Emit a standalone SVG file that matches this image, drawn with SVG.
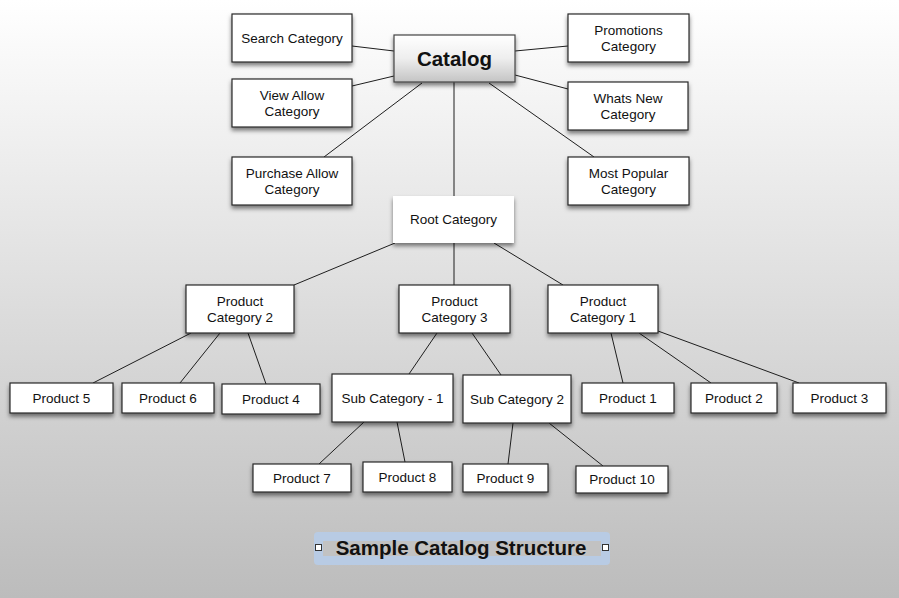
<svg xmlns="http://www.w3.org/2000/svg" width="899" height="598" viewBox="0 0 899 598">
<defs>
<linearGradient id="bg" x1="0" y1="0" x2="0" y2="1">
<stop offset="0" stop-color="#ffffff"/>
<stop offset="1" stop-color="#bcbcbc"/>
</linearGradient>
<linearGradient id="cat" x1="0" y1="0" x2="0" y2="1">
<stop offset="0" stop-color="#ffffff"/>
<stop offset="0.5" stop-color="#eeeeee"/>
<stop offset="1" stop-color="#c4c4c4"/>
</linearGradient>
<filter id="sh" x="-20%" y="-20%" width="140%" height="160%">
<feDropShadow dx="0" dy="3" stdDeviation="2" flood-color="#000" flood-opacity="0.5"/>
</filter>
<style>
.box{fill:#fff;stroke:#2a2a2a;stroke-width:1.2;filter:url(#sh)}
.nb{fill:#fff;stroke:none;filter:url(#sh)}
.t{font-family:"Liberation Sans",Arial,sans-serif;font-size:13.5px;fill:#111;text-anchor:middle}
.c line{stroke:#1e1e1e;stroke-width:1}
</style>
</defs>
<rect x="0" y="0" width="899" height="598" fill="url(#bg)"/>
<g class="c" id="connectors">
<line x1="352" y1="46" x2="394" y2="51"/>
<line x1="352" y1="86" x2="394" y2="76"/>
<line x1="324" y1="157" x2="422" y2="83"/>
<line x1="454" y1="82" x2="454" y2="196"/>
<line x1="515" y1="51" x2="568" y2="46"/>
<line x1="515" y1="75" x2="568" y2="89"/>
<line x1="489" y1="83" x2="594" y2="157"/>
<line x1="395" y1="243" x2="294" y2="285"/>
<line x1="454" y1="243" x2="454" y2="285"/>
<line x1="494" y1="243" x2="563" y2="285"/>
<line x1="191" y1="333" x2="93" y2="383"/>
<line x1="220" y1="333" x2="180" y2="383"/>
<line x1="248" y1="333" x2="266" y2="384"/>
<line x1="437" y1="333" x2="409" y2="374"/>
<line x1="472" y1="333" x2="501" y2="375"/>
<line x1="611" y1="333" x2="623" y2="383"/>
<line x1="639" y1="333" x2="711" y2="383"/>
<line x1="658" y1="331" x2="799" y2="383"/>
<line x1="364" y1="422" x2="319" y2="464"/>
<line x1="397" y1="422" x2="405" y2="462"/>
<line x1="513" y1="423" x2="508" y2="464"/>
<line x1="549" y1="423" x2="603" y2="466"/>
</g>
<g id="catalog">
<rect x="394" y="35" width="121" height="47" fill="url(#cat)" stroke="#444" stroke-width="1.2" filter="url(#sh)"/>
<text x="454.5" y="66" class="t" style="font-size:20.5px;font-weight:bold">Catalog</text>
</g>
<g id="search"><rect class="box" x="232" y="14" width="120" height="48"/><text class="t" x="292" y="43">Search Category</text></g>
<g id="viewallow"><rect class="box" x="232" y="79" width="120" height="48"/><text class="t" x="292" y="100">View Allow</text><text class="t" x="292" y="116">Category</text></g>
<g id="purchaseallow"><rect class="box" x="232" y="157" width="120" height="48"/><text class="t" x="292" y="178">Purchase Allow</text><text class="t" x="292" y="194">Category</text></g>
<g id="promotions"><rect class="box" x="568" y="14" width="121" height="48"/><text class="t" x="628.5" y="35">Promotions</text><text class="t" x="628.5" y="51">Category</text></g>
<g id="whatsnew"><rect class="box" x="568" y="82" width="120" height="48"/><text class="t" x="628" y="103">Whats New</text><text class="t" x="628" y="119">Category</text></g>
<g id="mostpopular"><rect class="box" x="568" y="157" width="121" height="48"/><text class="t" x="628.5" y="178">Most Popular</text><text class="t" x="628.5" y="194">Category</text></g>
<g id="root"><rect class="nb" x="393" y="196" width="121" height="47"/><text class="t" x="453.5" y="224">Root Category</text></g>
<g id="pc2"><rect class="box" x="186" y="285" width="108" height="48"/><text class="t" x="240" y="306">Product</text><text class="t" x="240" y="322">Category 2</text></g>
<g id="pc3"><rect class="box" x="399" y="285" width="111" height="48"/><text class="t" x="454.5" y="306">Product</text><text class="t" x="454.5" y="322">Category 3</text></g>
<g id="pc1"><rect class="box" x="548" y="285" width="110" height="48"/><text class="t" x="603" y="306">Product</text><text class="t" x="603" y="322">Category 1</text></g>
<g id="p5"><rect class="box" x="10" y="383" width="103" height="30"/><text class="t" x="61.5" y="403">Product 5</text></g>
<g id="p6"><rect class="box" x="122" y="383" width="92" height="30"/><text class="t" x="168" y="403">Product 6</text></g>
<g id="p4"><rect class="box" x="222" y="384" width="98" height="30"/><text class="t" x="271" y="404">Product 4</text></g>
<g id="sub1"><rect class="box" x="332" y="374" width="121" height="48"/><text class="t" x="392.5" y="403">Sub Category - 1</text></g>
<g id="sub2"><rect class="box" x="463" y="375" width="108" height="48"/><text class="t" x="517" y="404">Sub Category 2</text></g>
<g id="p1"><rect class="box" x="582" y="383" width="92" height="30"/><text class="t" x="628" y="403">Product 1</text></g>
<g id="p2"><rect class="box" x="691" y="383" width="86" height="30"/><text class="t" x="734" y="403">Product 2</text></g>
<g id="p3"><rect class="box" x="793" y="383" width="93" height="30"/><text class="t" x="839.5" y="403">Product 3</text></g>
<g id="p7"><rect class="box" x="253" y="464" width="98" height="28"/><text class="t" x="302" y="483">Product 7</text></g>
<g id="p8"><rect class="box" x="363" y="462" width="89" height="30"/><text class="t" x="407.5" y="482">Product 8</text></g>
<g id="p9"><rect class="box" x="463" y="464" width="85" height="28"/><text class="t" x="505.5" y="483">Product 9</text></g>
<g id="p10"><rect class="box" x="576" y="466" width="92" height="27"/><text class="t" x="622" y="484">Product 10</text></g>
<g id="title">
<rect x="314" y="532" width="296" height="33" rx="4" fill="#b8cbe4"/>
<rect x="323" y="541" width="278" height="15" fill="#c2c2c2"/>
<rect x="315.5" y="544.5" width="6" height="6" fill="#fff" stroke="#333" stroke-width="1"/>
<rect x="602.5" y="544.5" width="6" height="6" fill="#fff" stroke="#333" stroke-width="1"/>
<text x="461" y="555" class="t" style="font-size:20.5px;font-weight:bold">Sample Catalog Structure</text>
</g>
</svg>
